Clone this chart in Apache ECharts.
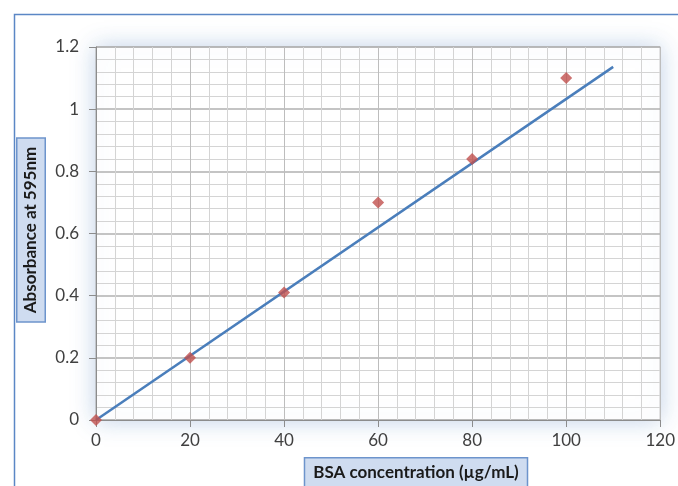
<!DOCTYPE html>
<html><head><meta charset="utf-8">
<script src="https://cdn.jsdelivr.net/npm/echarts@6/dist/echarts.min.js"></script>
<style>html,body{margin:0;padding:0;background:#fff}#c{width:678px;height:486px}</style>
</head><body><div id="c"></div>
<script>
// Data
const concentrations = [0, 20, 40, 60, 80, 100];
const absorbance = [0, 0.2, 0.41, 0.70, 0.84, 1.10];
const trendX = [0, 110];
const trendY = [0, 1.136];
const xTitle = 'BSA concentration (µg/mL)';
const yTitle = 'Absorbance at 595nm';

const chart = echarts.init(document.getElementById('c'), null, {renderer: 'canvas'});
const font = 'Lato, "Open Sans", sans-serif';
chart.setOption({
  backgroundColor: '#fff',
  animation: false,
  grid: {left: 96, right: 17, top: 47, bottom: 66, show: true, backgroundColor: '#fff',
    borderColor: '#a6a6a6', borderWidth: 1,
    shadowColor: 'rgba(79,129,189,0.35)', shadowBlur: 22},
  xAxis: {type: 'value', min: 0, max: 120, interval: 20,
    axisLine: {show: true, onZero: false, lineStyle: {color: '#8c8c8c', width: 1}},
    axisTick: {show: true, inside: false, length: 7, lineStyle: {color: '#8c8c8c'}},
    minorTick: {show: false, splitNumber: 5},
    axisLabel: {color: '#404040', fontSize: 17, fontFamily: font, margin: 12},
    splitLine: {show: true, lineStyle: {color: '#bdbdbd', width: 1}},
    minorSplitLine: {show: true, lineStyle: {color: '#d4d4d4', width: 1}}
  },
  yAxis: {type: 'value', min: 0, max: 1.2, interval: 0.2,
    axisLine: {show: true, lineStyle: {color: '#8c8c8c', width: 1}},
    axisTick: {show: true, inside: false, length: 7, lineStyle: {color: '#8c8c8c'}},
    minorTick: {show: false, splitNumber: 5},
    axisLabel: {color: '#404040', fontSize: 17, fontFamily: font, margin: 17},
    splitLine: {show: true, lineStyle: {color: '#b0b0b0', width: 1.5}},
    minorSplitLine: {show: true, lineStyle: {color: '#d4d4d4', width: 1}}
  },
  graphic: [
    {type: 'rect', left: 12, top: 12, shape: {width: 720, height: 520},
      style: {fill: 'none', stroke: '#5b87c5', lineWidth: 1.5}, z: 0, silent: true},
    {type: 'text', x: 416, y: 473, z: 10,
      style: {text: xTitle, fontSize: 17, fontWeight: 'bold', fontFamily: font, fill: '#1a1a1a',
        align: 'center', verticalAlign: 'middle',
        backgroundColor: '#cfdcf0', borderColor: '#6d94cc', borderWidth: 1.5,
        padding: [6, 8, 6, 8]}},
    {type: 'text', x: 31, y: 230, rotation: Math.PI / 2, z: 10,
      style: {text: yTitle, fontSize: 17, fontWeight: 'bold', fontFamily: font, fill: '#1a1a1a',
        align: 'center', verticalAlign: 'middle',
        backgroundColor: '#cfdcf0', borderColor: '#6d94cc', borderWidth: 1.5,
        padding: [5, 8, 5, 8]}}
  ],
  series: [
    {type: 'line', data: trendX.map((x, i) => [x, trendY[i]]), showSymbol: false,
      lineStyle: {color: '#4a7ebb', width: 2.5}, z: 2},
    {type: 'scatter', data: concentrations.map((x, i) => [x, absorbance[i]]),
      symbol: 'diamond', symbolSize: 12, itemStyle: {color: '#c0504d'}, z: 3}
  ]
});
</script></body></html>
